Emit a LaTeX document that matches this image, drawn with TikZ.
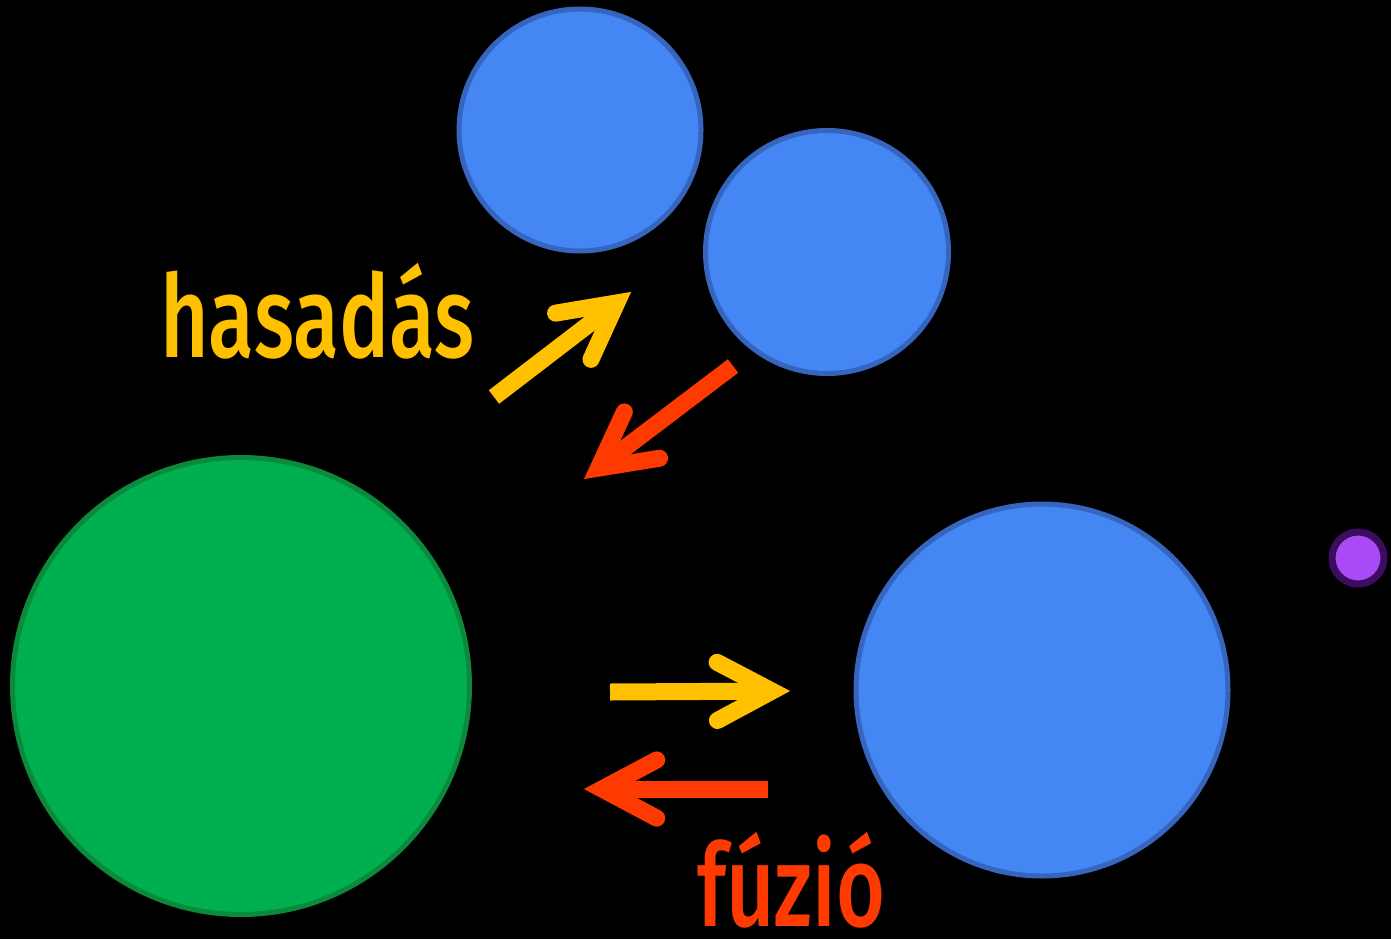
\documentclass[tikz,border=0pt]{standalone}
\usepackage{fontspec}
\usetikzlibrary{calc}
\newfontfamily\labelfont[FakeStretch=0.73]{Fira Sans Medium}
\definecolor{bfill}{HTML}{4487F4}
\definecolor{bline}{HTML}{3565BC}
\definecolor{gfill}{HTML}{00AF50}
\definecolor{gline}{HTML}{0B8A3C}
\definecolor{pfill}{HTML}{A94AF7}
\definecolor{pline}{HTML}{3E0C5E}
\definecolor{ayel}{HTML}{FFC000}
\definecolor{ared}{HTML}{FF3A00}
\begin{document}
\begin{tikzpicture}[x=1pt,y=-1pt,
  ball/.style={circle,inner sep=0pt,minimum size=#1,line width=5pt},
  blueball/.style={ball=#1,draw=bline,fill=bfill},
  shaft/.style={line width=17pt,line cap=butt},
  chev/.style={line width=17pt,line cap=round,line join=miter,miter limit=10},
  lbl/.style={font=\labelfont\fontsize{115}{115}\selectfont,inner sep=0pt,anchor=base west}]
\fill[black] (0,0) rectangle (1391,939);
\useasboundingbox (0,0) rectangle (1391,939);
% nuclei
\node[blueball=242pt] (t1) at (580,130) {};
\node[blueball=243pt] (t2) at (827,252) {};
\node[ball=457pt,draw=gline,fill=gfill] (g) at (241,686) {};
\node[blueball=372pt] (b) at (1042,690) {};
\node[ball=52pt,line width=7pt,draw=pline,fill=pfill] (p) at (1358,558) {};
% arrow coordinates
\coordinate (a1s) at (494,397);  \coordinate (a1t) at (631,292);
\coordinate (a2s) at (733,366);  \coordinate (a2t) at (584,479);
\coordinate (a3s) at (610,692);  \coordinate (a3t) at (790,691);
\coordinate (a4s) at (768,789);  \coordinate (a4t) at (584,789);
\foreach \s/\t/\c in {a1s/a1t/ayel,a2s/a2t/ared,a3s/a3t/ayel,a4s/a4t/ared}{
  \coordinate (v) at ($(\t)!18pt!(\s)$);
  \draw[shaft,\c] (\s) -- (v);
  \draw[chev,\c] ($(v)!62pt!28:(\s)$) -- (v) -- ($(v)!62pt!-28:(\s)$);
}
% labels
\node[lbl,text=ayel] (h) at (160,357) {hasadás};
\node[lbl,text=ared] (f) at (697,926) {fúzió};
\end{tikzpicture}
\end{document}
